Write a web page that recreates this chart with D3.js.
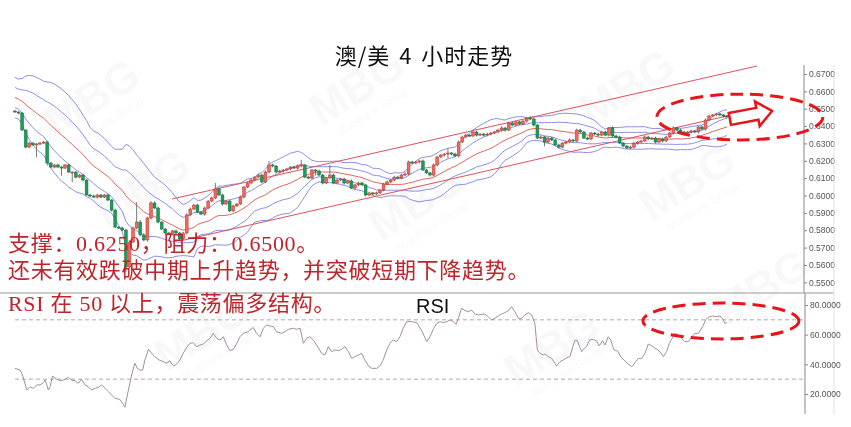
<!DOCTYPE html>
<html><head><meta charset="utf-8">
<script src="https://cdn.jsdelivr.net/npm/d3@7/dist/d3.min.js"></script>
<style>html,body{margin:0;padding:0;background:#fff;}svg{display:block;}</style>
</head><body>
<svg id="chart" width="851" height="427"></svg>
<script>
// ---- AUD/USD 4-hour closes, one per candle (open = previous close) ----
const priorCloses = [0.6652,0.6640,0.6655,0.6630,0.6618,0.6624,0.6600,0.6584,0.6592,0.6566,
  0.6548,0.6553,0.6528,0.6515,0.6522,0.6502,0.6495,0.6490,0.6487];
const closes = [
  0.6481,0.6475,0.6377,0.6279,0.6302,0.6291,0.6297,0.6302,0.6308,0.6187,
  0.6164,0.6176,0.6164,0.6158,0.6176,0.6135,0.6135,0.6106,0.6118,0.6089,
  0.6003,0.5997,0.5991,0.6003,0.5991,0.6003,0.5974,0.5916,0.5818,0.5813,
  0.5801,0.5588,0.5732,0.5813,0.5847,0.5773,0.5744,0.5870,0.5957,0.5928,
  0.5847,0.5807,0.5784,0.5778,0.5796,0.5784,0.5750,0.5784,0.5888,0.5922,
  0.5945,0.5905,0.5893,0.5928,0.5968,0.5986,0.6038,0.6003,0.5951,0.5968,
  0.5911,0.5940,0.5951,0.5991,0.6049,0.6072,0.6089,0.6106,0.6118,0.6078,
  0.6135,0.6176,0.6170,0.6135,0.6141,0.6147,0.6153,0.6164,0.6158,0.6170,
  0.6176,0.6106,0.6101,0.6147,0.6141,0.6118,0.6072,0.6101,0.6118,0.6072,
  0.6089,0.6095,0.6072,0.6084,0.6043,0.6061,0.6072,0.6061,0.6003,0.6015,
  0.6009,0.6015,0.6032,0.6066,0.6078,0.6089,0.6106,0.6101,0.6118,0.6124,
  0.6193,0.6187,0.6193,0.6199,0.6147,0.6130,0.6118,0.6176,0.6222,0.6233,
  0.6239,0.6245,0.6239,0.6228,0.6308,0.6337,0.6348,0.6343,0.6366,0.6348,
  0.6354,0.6348,0.6354,0.6360,0.6366,0.6377,0.6389,0.6377,0.6418,0.6406,
  0.6424,0.6412,0.6429,0.6446,0.6441,0.6406,0.6331,0.6337,0.6308,0.6331,
  0.6320,0.6291,0.6279,0.6302,0.6308,0.6320,0.6314,0.6377,0.6366,0.6331,
  0.6326,0.6360,0.6354,0.6348,0.6366,0.6348,0.6389,0.6343,0.6337,0.6302,
  0.6285,0.6274,0.6279,0.6302,0.6308,0.6314,0.6337,0.6326,0.6331,0.6308,
  0.6326,0.6314,0.6337,0.6360,0.6389,0.6377,0.6366,0.6360,0.6366,0.6372,
  0.6366,0.6395,0.6383,0.6435,0.6458,0.6464,0.6470,0.6464,0.6458,0.6452];
// upper / lower shadow length of each candle, in pips
const wickHi = [
  4,5,6,5,8,6,5,7,6,8, 6,5,7,5,6,8,5,6,7,5, 6,5,8,6,5,7,6,5,8,6, 7,6,10,8,115,12,10,8,12,9,
  8,6,7,5,6,8,6,7,10,8, 6,7,5,8,6,9,35,10,8,6, 7,8,6,9,7,8,10,7,8,6, 9,23,7,6,8,6,7,5,6,8,
  29,6,8,7,6,9,7,6,58,8, 7,6,8,7,9,6,7,8,6,7, 5,8,6,7,9,6,8,7,6,10, 8,7,6,8,9,7,6,8,7,6,
  7,25,6,8,9,8,7,6,8,7, 6,7,8,6,7,8,9,7,6,8, 7,6,8,7,9,8,6,10,7,8, 6,7,8,6,7,9,6,8,7,6,
  8,7,6,9,7,8,6,10,7,8, 6,7,8,7,6,8,9,7,6,8, 7,6,8,7,9,6,8,7,6,7, 8,6,7,9,8,6,7,8,6,7];
const wickLo = [
  5,6,4,7,6,5,70,6,5,15, 6,7,5,45,6,5,58,7,6,8, 5,7,6,8,5,6,7,9,6,8, 7,29,8,6,7,9,8,10,7,6,
  8,7,9,6,8,7,12,6,8,7, 6,8,7,9,6,7,8,6,9,7, 8,6,7,5,8,6,7,9,6,8, 7,6,8,7,6,9,7,8,6,7,
  8,6,7,9,25,7,8,6,7,8, 6,7,9,8,6,7,8,6,9,7, 8,6,7,8,6,9,7,8,6,7, 9,7,6,8,7,6,9,8,7,6,
  8,25,7,6,9,7,8,6,7,8, 6,9,7,8,6,7,8,9,6,7, 8,7,6,9,7,8,6,7,25,8, 7,6,9,7,8,6,7,8,9,6,
  7,8,6,9,7,6,8,7,9,6, 8,7,6,8,9,7,6,8,7,9, 6,8,7,6,9,7,8,6,7,8, 7,9,6,8,7,6,8,7,9,6];

// RSI(14) turning points: candle position and value
const rsiIdx = [0,1.4,2.1,3.3,4.2,5.1,6.1,7.0,7.9,8.4,8.9,9.3,9.8,10.5,11.2,12.1,13.0,14.0,14.9,15.8,
  16.8,17.7,18.6,19.6,20.5,21.4,22.4,23.3,24.2,25.2,26.1,27.0,27.9,29.3,30.1,30.7,31.7,32.6,33.5,34.2,
  34.9,35.7,36.3,37.3,38.2,39.1,40.3,41.5,42.4,43.3,43.8,44.4,45.2,46.1,47.0,48.0,48.9,49.8,50.8,51.7,
  52.6,53.6,54.5,55.4,56.4,57.3,58.2,59.2,60.1,61.0,62.0,62.9,63.8,65.2,66.6,67.5,68.5,69.4,70.3,71.3,
  72.2,73.1,74.5,75.5,76.4,77.8,78.7,79.7,80.6,81.5,82.4,83.4,84.3,85.7,86.6,87.6,88.5,89.4,90.4,91.3,
  92.2,93.2,94.1,95.0,96.0,96.9,97.8,98.8,99.7,101.1,102.0,102.9,103.9,104.8,105.7,106.7,107.6,108.5,109.5,110.9,
  112.3,113.7,115.1,116.0,117.0,117.9,118.8,119.7,120.7,121.6,122.5,123.3,123.9,124.8,125.8,126.7,127.6,128.6,129.5,130.4,
  131.3,132.3,133.2,134.1,135.1,136.0,136.9,137.9,138.8,139.7,140.7,141.6,142.5,143.5,144.4,145.3,146.0,146.7,147.7,148.1,
  149.1,150.0,150.9,151.4,152.3,153.2,154.2,155.1,155.9,156.5,157.2,157.7,158.4,158.8,159.7,160.6,161.6,162.5,163.3,164.2,
  164.9,165.8,166.5,167.4,168.4,169.3,170.2,171.4,172.4,173.3,174.2,175.2,176.1,177.0,178.0,178.9,179.5,180.3,181.2,182.1,
  182.9,183.5,184.5,185.4,186.3,187.2,188.2,189.1,190.0,191.0,192.2,193.1,194.0,195.0,196.1,197.0,197.8,198.4,199.0];
const rsiVal = [37.3,36.2,32.8,22.7,24.9,23.8,26.1,26.1,27.6,29.4,26.1,22.7,24.9,32.1,30.6,29.4,29.0,29.9,31.2,29.4,
  29.0,27.2,29.9,26.1,24.9,22.7,23.8,24.5,26.1,23.8,21.6,19.3,17.1,16.4,13.7,11.0,22.7,32.8,40.7,37.3,
  36.2,36.2,42.9,50.1,47.4,45.2,42.9,41.8,40.7,42.5,40.2,38.9,40.2,42.9,47.4,51.5,54.2,54.6,51.9,53.0,
  53.7,55.9,57.5,60.9,57.5,56.4,58.6,53.0,49.2,50.1,54.2,58.6,60.9,62.0,64.9,60.9,58.6,64.3,66.5,65.8,
  65.4,62.0,60.9,62.0,63.6,64.3,63.6,64.3,54.2,57.5,58.6,56.4,53.0,47.4,46.3,51.9,48.5,49.7,49.2,50.1,
  51.9,48.5,44.0,45.2,46.3,47.4,42.9,38.9,37.3,37.3,38.9,42.9,49.7,54.2,56.4,55.3,58.6,64.3,68.8,68.8,
  68.1,62.5,55.3,58.6,64.3,67.6,68.8,68.1,68.8,69.9,68.8,67.0,71.0,77.8,76.2,75.5,76.6,73.9,73.3,73.7,
  73.9,72.1,69.9,71.0,72.6,73.9,74.8,76.2,78.9,75.5,71.0,71.0,73.3,74.8,73.3,67.6,49.7,47.4,46.3,47.0,
  45.2,44.0,40.7,38.9,41.8,42.9,44.5,45.2,51.9,56.4,55.9,52.4,48.5,50.1,51.9,56.4,56.8,55.9,52.4,55.9,
  53.0,58.6,56.4,49.7,49.0,45.2,42.9,40.2,38.4,41.1,44.0,44.0,47.4,53.7,52.4,50.8,50.1,48.5,45.2,48.5,
  54.2,56.8,60.9,59.8,57.5,55.3,55.3,58.2,60.9,60.9,65.4,70.3,72.1,72.6,72.1,72.6,71.0,67.6,68.1];

const priceTicks = [0.55,0.56,0.57,0.58,0.59,0.60,0.61,0.62,0.63,0.64,0.65,0.66,0.67];
const rsiTicks = [20,40,60,80];
const rsiLevels = [30,70];
// trend channel: [candle position, price] end points
const channelUpper = [[43.9,0.5980],[207.4,0.6746]];
const channelLower = [[46.1,0.5738],[207.4,0.6498]];
// highlighted zones: centre [position, value] and radii in the same units
const priceZone = {cx:202.6, cy:0.6452, rx:23.2, ry:0.0132};
const rsiZone = {cx:197.3, cy:69.2, rx:21.8, ry:12.1};
const breakoutArrow = {from:[199.8,0.6441], to:[211.6,0.6487]};

const titleText = "澳/美 4 小时走势";
const notes = ["支撑：0.6250，阻力：0.6500。",
  "还未有效跌破中期上升趋势，并突破短期下降趋势。",
  "RSI 在 50 以上，震荡偏多结构。"];

// ---- layout ----
const W = 851, H = 427;
const svg = d3.select("#chart");
svg.append("rect").attr("width", W).attr("height", H).attr("fill", "#fff");

const x = d3.scaleLinear().domain([0, closes.length - 1]).range([15, 727]);
const y = d3.scaleLinear().domain([0.55, 0.67]).range([282.3, 74]);
const yR = d3.scaleLinear().domain([20, 80]).range([394, 305]);
const axisX = 804;

// faint brand watermarks
const wm = svg.append("g").attr("fill", "#000").attr("opacity", 0.03)
  .attr("font-family", "Liberation Sans, Arial, sans-serif").attr("font-weight", "bold");
[[100,110],[365,100],[635,100],[150,200],[425,215],[695,195],[210,345],[560,360],[770,300]]
  .forEach(([cx, cy]) => {
    const g = wm.append("g").attr("transform", `translate(${cx},${cy}) rotate(-32)`);
    g.append("text").attr("text-anchor", "middle").attr("font-size", 44).text("MBG");
    g.append("text").attr("text-anchor", "middle").attr("y", 18).attr("font-size", 11)
      .attr("font-weight", "normal").text("MultiBank Group");
  });

// Bollinger bands (20, 1σ and 2σ)
const allCloses = priorCloses.concat(closes);
const bb = closes.map((c, i) => {
  const win = allCloses.slice(i, i + 20);
  const m = d3.mean(win);
  const sd = Math.sqrt(d3.mean(win, v => (v - m) * (v - m)));
  return {i, m, sd};
});
const bandLine = k => d3.line().x(d => x(d.i)).y(d => y(d.m + k * d.sd));
[2, 1, -1, -2].forEach(k => {
  svg.append("path").datum(bb).attr("d", bandLine(k))
    .attr("fill", "none").attr("stroke", "#8a8de6").attr("stroke-width", 1);
});
svg.append("path").datum(bb).attr("d", bandLine(0))
  .attr("fill", "none").attr("stroke", "#e0625c").attr("stroke-width", 1);

// trend channel
[channelUpper, channelLower].forEach(seg => {
  svg.append("line")
    .attr("x1", x(seg[0][0])).attr("y1", y(seg[0][1]))
    .attr("x2", x(seg[1][0])).attr("y2", y(seg[1][1]))
    .attr("stroke", "#e2505a").attr("stroke-width", 1);
});

// candles
const candles = closes.map((c, i) => {
  const o = i === 0 ? priorCloses[priorCloses.length - 1] : closes[i - 1];
  return {i, o, c, h: Math.max(o, c) + wickHi[i] / 10000, l: Math.min(o, c) - wickLo[i] / 10000};
});
const bw = 2.8;
const cg = svg.append("g");
cg.selectAll("line.wick").data(candles).join("line").attr("class", "wick")
  .attr("x1", d => x(d.i)).attr("x2", d => x(d.i))
  .attr("y1", d => y(d.h)).attr("y2", d => y(d.l))
  .attr("stroke", "#555").attr("stroke-width", 0.8);
cg.selectAll("rect").data(candles).join("rect")
  .attr("x", d => x(d.i) - bw / 2).attr("width", bw)
  .attr("y", d => y(Math.max(d.o, d.c)))
  .attr("height", d => Math.max(1, Math.abs(y(d.o) - y(d.c))))
  .attr("fill", d => d.c >= d.o ? "#ef6a5f" : "#1c9d5a")
  .attr("stroke", d => d.c >= d.o ? "#b8322b" : "#0f6a3a").attr("stroke-width", 0.5);

// price axis
svg.append("line").attr("x1", axisX).attr("x2", axisX).attr("y1", 65).attr("y2", 293)
  .attr("stroke", "#888");
const pa = svg.append("g").attr("transform", `translate(${axisX},0)`)
  .call(d3.axisRight(y).tickValues(priceTicks).tickFormat(d3.format(".4f")).tickSize(3).tickPadding(2));
pa.select(".domain").remove();
pa.selectAll("line").attr("stroke", "#888");
pa.selectAll("text").attr("fill", "#555").attr("font-size", 8.5)
  .attr("font-family", "Liberation Sans, Arial, sans-serif");

// pane separator and right frame
svg.append("line").attr("x1", 0).attr("x2", 834).attr("y1", 293).attr("y2", 293).attr("stroke", "#999");
svg.append("line").attr("x1", 834).attr("x2", 834).attr("y1", 65).attr("y2", 414).attr("stroke", "#e2e2e2");

// RSI pane
rsiLevels.forEach(v => {
  svg.append("line").attr("x1", 15).attr("x2", axisX).attr("y1", yR(v)).attr("y2", yR(v))
    .attr("stroke", "#aaa").attr("stroke-dasharray", "4,3");
});
svg.append("path").datum(rsiIdx.map((p, k) => [p, rsiVal[k]]))
  .attr("d", d3.line().x(d => x(d[0])).y(d => yR(d[1])))
  .attr("fill", "none").attr("stroke", "#a58d9e").attr("stroke-width", 1);
svg.append("line").attr("x1", axisX + 1).attr("x2", axisX + 1).attr("y1", 293).attr("y2", 414)
  .attr("stroke", "#888");
const ra = svg.append("g")
  .attr("transform", `translate(${axisX + 1},0)`)
  .call(d3.axisRight(yR).tickValues(rsiTicks).tickFormat(d3.format(".4f")).tickSize(3).tickPadding(2));
ra.select(".domain").remove();
ra.selectAll("line").attr("stroke", "#888");
ra.selectAll("text").attr("fill", "#555").attr("font-size", 8.5)
  .attr("font-family", "Liberation Sans, Arial, sans-serif");
svg.append("text").attr("x", 416).attr("y", 313).attr("font-size", 20)
  .attr("font-family", "Liberation Sans, Arial, sans-serif").attr("fill", "#111").text("RSI");

// highlighted zones and breakout arrow
const zoneStyle = sel => sel.attr("fill", "none").attr("stroke", "#e8141c")
  .attr("stroke-width", 3).attr("stroke-dasharray", "13,7");
svg.append("ellipse").attr("cx", x(priceZone.cx)).attr("cy", y(priceZone.cy))
  .attr("rx", x(priceZone.cx + priceZone.rx) - x(priceZone.cx))
  .attr("ry", y(priceZone.cy - priceZone.ry) - y(priceZone.cy)).call(zoneStyle);
svg.append("ellipse").attr("cx", x(rsiZone.cx)).attr("cy", yR(rsiZone.cy))
  .attr("rx", x(rsiZone.cx + rsiZone.rx) - x(rsiZone.cx))
  .attr("ry", yR(rsiZone.cy - rsiZone.ry) - yR(rsiZone.cy)).call(zoneStyle);
{
  const x0 = x(breakoutArrow.from[0]), y0 = y(breakoutArrow.from[1]);
  const x1 = x(breakoutArrow.to[0]), y1 = y(breakoutArrow.to[1]);
  const len = Math.hypot(x1 - x0, y1 - y0), ang = Math.atan2(y1 - y0, x1 - x0) * 180 / Math.PI;
  const head = 15, sh = 6, hh = 12.5;
  const pts = [[0,-sh],[len-head,-sh],[len-head,-hh],[len,0],[len-head,hh],[len-head,sh],[0,sh]];
  svg.append("polygon").attr("points", pts.map(p => p.join(",")).join(" "))
    .attr("transform", `translate(${x0},${y0}) rotate(${ang})`)
    .attr("fill", "#fff").attr("stroke", "#e8141c").attr("stroke-width", 2.5)
    .attr("stroke-linejoin", "miter");
}

// title
svg.append("text").attr("x", 424).attr("y", 64).attr("text-anchor", "middle")
  .attr("font-size", 22).attr("letter-spacing", 1).attr("word-spacing", 3)
  .attr("font-family", "Noto Sans CJK SC, sans-serif")
  .attr("fill", "#111").text(titleText);

// commentary
const noteY = [251, 278, 311];
notes.forEach((t, k) => {
  svg.append("text").attr("x", 8).attr("y", noteY[k]).attr("font-size", 22)
    .attr("letter-spacing", 0.7)
    .attr("font-family", "Liberation Serif, Noto Sans CJK SC, serif")
    .attr("fill", "#c0242b").text(t);
});
</script>
</body></html>
